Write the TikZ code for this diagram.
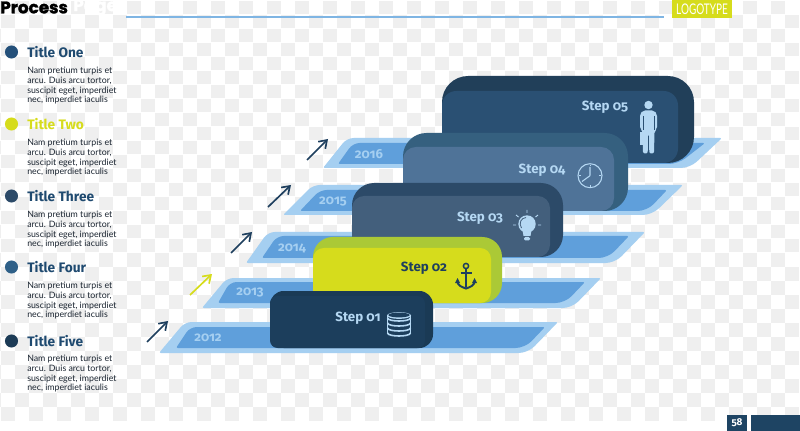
\documentclass[tikz,border=0pt]{standalone}
\usepackage{fontspec}
\usepackage{graphicx}
\setmainfont{Lato}
\newfontfamily\heavyf[BoldFeatures={FakeBold=1.6}]{Poppins}
\newfontfamily\stepf[Numbers=OldStyle]{Fira Sans}
\usetikzlibrary{arrows.meta}
\definecolor{checker}{HTML}{EFEFEF}
\definecolor{barout}{HTML}{A5CFF1}
\definecolor{barin}{HTML}{5F9FDB}
\definecolor{rulec}{HTML}{7FB5E3}
\definecolor{lime}{HTML}{D6DC1C}
\definecolor{navy}{HTML}{1E4463}
\definecolor{pale}{HTML}{B5D8F3}
\definecolor{arrowc}{HTML}{1E3F5E}
\definecolor{bodyc}{HTML}{1A2430}
\definecolor{cfiveo}{HTML}{213F59}\definecolor{cfivei}{HTML}{2A5073}
\definecolor{cfouro}{HTML}{35607F}\definecolor{cfouri}{HTML}{4F7398}
\definecolor{cthreeo}{HTML}{2C4A68}\definecolor{cthreei}{HTML}{435F7C}
\definecolor{ctwoo}{HTML}{ABC936}\definecolor{ctwoi}{HTML}{D6DC1C}
\definecolor{coneo}{HTML}{1A3A55}\definecolor{conei}{HTML}{1C3E5C}
\tikzset{
  yearlabel/.style={font=\stepf\bfseries\fontsize{9.8}{11}\selectfont,text=barout,inner sep=0pt},
  steplabel/.style={font=\stepf\bfseries\fontsize{10}{12}\selectfont,text=pale,inner sep=0pt},
  titlelabel/.style={font=\stepf\bfseries\fontsize{10.3}{12}\selectfont,inner sep=0pt,anchor=west},
  bodylabel/.style={font=\fontsize{6.6}{7.3}\selectfont,text=bodyc,inner sep=0pt,anchor=north west,align=left},
  upflow/.style={-{Straight Barb[length=5.5pt,width=7.5pt]},line width=1.25pt},
  iconline/.style={draw=pale,line width=0.8pt},
}
\newcommand{\cardfrac}{0.3}
% #1 name #2 left #3 top #4 right #5 inner top #6 inner right #7 bottom #8 outer col #9 inner col
\newcommand{\stepcard}[9]{%
  \pgfmathsetmacro{\cardR}{(#7-#3)*\cardfrac*0.75}%
  \pgfmathsetmacro{\cardS}{(#7-#3)*\cardfrac*0.55*0.75}%
  \node[fill=#8,inner sep=0pt,outer sep=0pt,anchor=north west,rounded corners=\cardR pt,
        minimum width={(#4-#2)*0.75pt},minimum height={(#7-#3)*0.75pt}] (#1) at (#2,#3) {};
  \node[fill=#9,inner sep=0pt,outer sep=0pt,anchor=north west,rounded corners=\cardS pt,
        minimum width={(#6-#2)*0.75pt},minimum height={(#7-#5)*0.75pt}] (#1f) at (#2,#5) {};
}
% colour, top, bottom, bottom-left x, top-left x, top-right x, bottom-right x
\newcommand{\bandshape}[7]{%
  \fill[#1] (#6-40,#2) [rounded corners=1.5pt] -- (#6,#2) [rounded corners=7pt] -- (#7,#3) [rounded corners=1.5pt] -- (#4,#3) [rounded corners=5pt] -- (#5,#2) -- cycle;
}
\begin{document}
\begin{tikzpicture}[x=0.75pt,y=-0.75pt]
\useasboundingbox (0,0) rectangle (800,431);
\fill[white] (0,0) rectangle (800,431);
\foreach \i in {0,...,57}{\foreach \j in {0,...,30}{%
  \pgfmathparse{int(mod(\i+\j,2))}%
  \ifnum\pgfmathresult=1
    \fill[checker] (\i*14-13,\j*14-13) rectangle (\i*14+0.5,\j*14+0.5);
  \fi}}
% header
\node[font=\heavyf\bfseries\fontsize{12.6}{15}\selectfont,text=black,inner sep=0pt,anchor=west] (head) at (0,7.5) {Process};
\node[font=\heavyf\bfseries\fontsize{12.6}{15}\selectfont,text=white,inner sep=0pt,anchor=west] (head2) at (73,7.5) {Page};
\coordinate (ruleA) at (126,17.5); \coordinate (ruleB) at (664,17.5);
\draw[rulec,line width=1.5pt] (ruleA) -- (ruleB);
\node[fill=lime,inner sep=0pt,outer sep=0pt,minimum width=45pt,minimum height=13.5pt,anchor=north west,text=white] (logo) at (672,0) {\scalebox{0.68}[1]{\fontsize{11}{13}\selectfont LOGOTYPE}};
\node[fill=navy,inner sep=0pt,outer sep=0pt,minimum width=15pt,minimum height=12pt,anchor=north west,text=white,font=\stepf\bfseries\fontsize{7.5}{9}\selectfont] (page) at (727,415) {58};
\node[fill=navy,inner sep=0pt,outer sep=0pt,minimum width=37pt,minimum height=12pt,anchor=north west] (pagebar) at (751,415) {};
% left column
\foreach \nm/\yy/\dy/\txt/\dc/\tc in {a/52/20/Title One/24507A/1F4A70,b/124/20/Title Two/D6DC1C/D6DC1C,c/196/20/Title Three/2C4A68/1F4A70,d/267/20/Title Four/2F6088/1F4A70,e/341/19/Title Five/1C3B56/1F4A70}{
  \definecolor{dotc}{HTML}{\dc}\definecolor{ttc}{HTML}{\tc}
  \node[circle,fill=dotc,minimum size=9.8pt,inner sep=0pt] (dot\nm) at (11.5,\yy) {};
  \node[titlelabel,text=ttc] (title\nm) at (27,\yy) {\txt};
  \node[bodylabel] (body\nm) at (27,\yy+\dy-5) {Nam pretium turpis et\\arcu. Duis arcu tortor,\\suscipit eget, imperdiet\\nec, imperdiet iaculis};
}
% arrows
\foreach \nm/\xa/\ya/\xb/\yb/\cc in {p/147/342/168/321/arrowc,q/190/295/212/274/lime,r/231/253/252/232/arrowc,s/268/207/291/185/arrowc,t/307/160/328/139/arrowc}{
  \coordinate (\nm A) at (\xa,\ya); \coordinate (\nm B) at (\xb,\yb);
  \draw[upflow,\cc] (\nm A) -- (\nm B);
}
% band 2016
\bandshape{barout}{138}{168}{323}{347}{722}{690}
\bandshape{barin}{143}{164}{338}{353}{705}{678}
\node[yearlabel] (y16) at (369,154) {2016};
\stepcard{c5}{442}{76}{694}{91}{678}{163}{cfiveo}{cfivei}
% band 2015
\bandshape{barout}{185}{215}{283}{313}{683}{652}
\bandshape{barin}{190}{211}{300}{320}{667}{647}
\node[yearlabel] (y15) at (333,202) {2015};
\stepcard{c4}{403}{133}{628}{147}{614}{211}{cfouro}{cfouri}
% band 2014
\bandshape{barout}{232}{263}{246}{268}{645}{615}
\bandshape{barin}{236}{258}{262}{277}{629}{608}
\node[yearlabel] (y14) at (292,248) {2014};
\stepcard{c3}{352}{183}{563}{196}{550}{257}{cthreeo}{cthreei}
% band 2013
\bandshape{barout}{278}{308}{202}{227}{601}{572}
\bandshape{barin}{282}{303}{218}{230}{585}{565}
\node[yearlabel] (y13) at (250,293) {2013};
\stepcard{c2}{313}{237}{502}{248}{491}{303}{ctwoo}{ctwoi}
% band 2012
\bandshape{barout}{322}{353}{159}{185}{558}{528}
\bandshape{barin}{327}{348}{176}{190}{545}{525}
\node[yearlabel] (y12) at (208,338) {2012};
\renewcommand{\cardfrac}{0.24}
\stepcard{c1}{270}{291}{433}{296}{425}{348}{coneo}{conei}
% step labels
\node[steplabel] (s5) at (605,107) {Step 05};
\node[steplabel] (s4) at (542,170) {Step 04};
\node[steplabel] (s3) at (480,218) {Step 03};
\node[steplabel,text=arrowc] (s2) at (424,268) {Step 02};
\node[steplabel] (s1) at (358,318) {Step 01};
% person
\fill[pale] (648.5,105) circle[radius=4.2];
\fill[pale,rounded corners=1.5pt] (640,114) -- (643,110.5) -- (654,110.5) -- (657,114) -- (657,129) -- (654.5,131) -- (654,153.5) -- (649.3,153.5) -- (649,134) -- (648,134) -- (647.7,153.5) -- (643,153.5) -- (642.8,131) -- (640,129) -- cycle;
\fill[pale] (640,132.5) rectangle (645.5,145);
\draw[cfivei,line width=0.4pt] (643.2,116) -- (643.2,130) (653.8,116) -- (653.8,130);
% clock
\draw[iconline] (590,175.7) circle[radius=12];
\draw[iconline] (590,175.7) -- (590,167) (590,175.7) -- (582,181.5);
\draw[pale,line width=0.5pt] (590,164.7) -- (590,166.5) (590,184.9) -- (590,186.7) (579,175.7) -- (580.8,175.7) (599.2,175.7) -- (601,175.7);
% bulb
\fill[pale] (527,224) circle[radius=8.7];
\fill[pale] (522.5,230) -- (531.5,230) -- (530.5,236) -- (523.5,236) -- cycle;
\fill[pale,rounded corners=1pt] (524,237) rectangle (530,240.5);
\draw[cthreei,line width=0.6pt] (521.5,228) .. controls (518.5,223) and (521,218) .. (526,217.5);
\draw[pale,line width=0.7pt] (527,210) -- (527,213) (516,215) -- (518.5,217) (538,215) -- (535.5,217) (513,225) -- (516,225) (538,225) -- (541,225);
% anchor
\draw[arrowc,line width=1.1pt] (466,266) circle[radius=2.6];
\draw[arrowc,line width=1.5pt] (466,268.5) -- (466,287);
\draw[arrowc,line width=1.2pt] (460.5,273) -- (471.5,273);
\draw[arrowc,line width=1.5pt] (457,281) .. controls (458,286) and (462,287) .. (466,288.5) .. controls (470,287) and (474,286) .. (475,281);
\fill[arrowc] (455,283) -- (457.5,278) -- (460,283) -- cycle (472,283) -- (474.5,278) -- (477,283) -- cycle;
% database
\fill[pale] (399,315.5) ellipse[x radius=12,y radius=3.4];
\fill[conei] (399,315) ellipse[x radius=10.7,y radius=2.4];
\foreach \yy in {318,323,328,333}{
  \draw[pale,line width=1.2pt] (387.5,\yy) .. controls (388,\yy+4) and (410,\yy+4) .. (410.5,\yy);
}
\draw[pale,line width=0.8pt] (387.2,315.5) -- (387.2,333) (410.8,315.5) -- (410.8,333);
\end{tikzpicture}
\end{document}
